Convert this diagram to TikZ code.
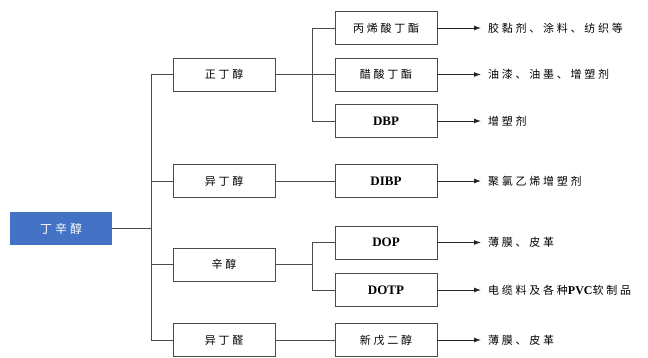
\documentclass[tikz,border=0pt]{standalone}
\usepackage{fontspec}
\setmainfont{Liberation Serif}
\newfontfamily\cjk[LetterSpace=25]{Noto Sans CJK SC}
\usetikzlibrary{arrows.meta}
\definecolor{rootblue}{HTML}{4472C4}
\definecolor{linegray}{HTML}{4A4A4A}
\newcommand\lat[1]{{\rmfamily\bfseries\fontsize{13}{15}\selectfont #1}}

\tikzset{
  box/.style={draw=linegray, line width=0.9pt, minimum width=102pt,
    minimum height=33pt, inner sep=0pt, font=\fontsize{11}{13}\selectfont\cjk},
  rootbox/.style={fill=rootblue, text=white, minimum width=102pt,
    minimum height=33pt, inner sep=0pt, font=\fontsize{12}{14}\selectfont\cjk},
  conn/.style={draw=linegray, line width=0.9pt},
  arr/.style={draw=black!85, line width=0.9pt, -{Latex[length=7pt,width=5pt]}},
  use/.style={anchor=west, inner xsep=7pt, inner ysep=0pt,
    font=\fontsize{11}{13}\selectfont\cjk}
}

\begin{document}
\begin{tikzpicture}[x=1pt, y=-1pt]
  \useasboundingbox (0,0) rectangle (648,358);

  \node[rootbox] (root) at (61,228.5) {丁辛醇};

  % first level
  \node[box] (zdc) at (224,74.5) {正丁醇};
  \node[box] (ydc) at (224,181) {异丁醇};
  \node[box] (xc) at (224,264.5) {辛醇};
  \node[box] (ydq) at (224,340) {异丁醛};

  % second level
  \node[box] (bxs) at (386,28) {丙烯酸丁酯};
  \node[box] (css) at (386,74.5) {醋酸丁酯};
  \node[box] (dbp) at (386,121) {\lat{DBP}};
  \node[box] (dibp) at (386,181) {\lat{DIBP}};
  \node[box] (dop) at (386,242.5) {\lat{DOP}};
  \node[box] (dotp) at (386,290) {\lat{DOTP}};
  \node[box] (xwe) at (386,340) {新戊二醇};

  % uses
  \node[use] (u1) at (481,28) {胶黏剂、涂料、纺织等};
  \node[use] (u2) at (481,74.5) {油漆、油墨、增塑剂};
  \node[use] (u3) at (481,121) {增塑剂};
  \node[use] (u4) at (481,181) {聚氯乙烯增塑剂};
  \node[use] (u5) at (481,242.5) {薄膜、皮革};
  \node[use] (u6) at (481,290) {电缆料及各种\lat{\fontsize{12}{14}\selectfont PVC}软制品};
  \node[use] (u7) at (481,340) {薄膜、皮革};

  % joints
  \coordinate (j0) at (151,228.5);
  \coordinate (j1) at (312,74.5);
  \coordinate (j2) at (312,264.5);

  \draw[conn] (root) -- (j0);
  \draw[conn] (j0) |- (zdc);
  \draw[conn] (j0) |- (ydc);
  \draw[conn] (j0) |- (xc);
  \draw[conn] (j0) |- (ydq);

  \draw[conn] (zdc) -- (j1);
  \draw[conn] (j1) |- (bxs);
  \draw[conn] (j1) -- (css);
  \draw[conn] (j1) |- (dbp);
  \draw[conn] (ydc) -- (dibp);
  \draw[conn] (xc) -- (j2);
  \draw[conn] (j2) |- (dop);
  \draw[conn] (j2) |- (dotp);
  \draw[conn] (ydq) -- (xwe);

  \draw[arr] (bxs) -- (u1);
  \draw[arr] (css) -- (u2);
  \draw[arr] (dbp) -- (u3);
  \draw[arr] (dibp) -- (u4);
  \draw[arr] (dop) -- (u5);
  \draw[arr] (dotp) -- (u6);
  \draw[arr] (xwe) -- (u7);
\end{tikzpicture}
\end{document}
